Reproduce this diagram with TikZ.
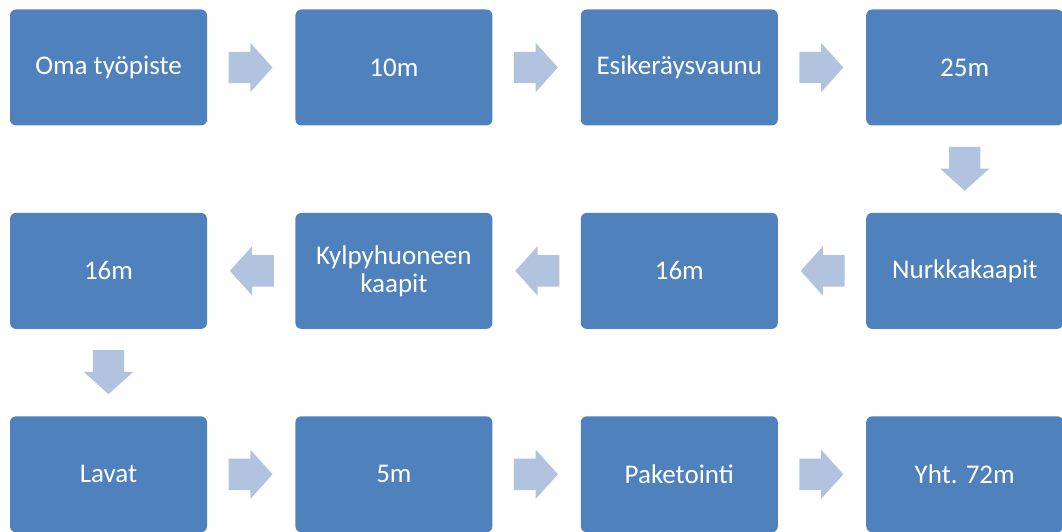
\documentclass[tikz,border=0pt]{standalone}
\usepackage{fontspec}
\setmainfont{Carlito}
\definecolor{BoxBlue}{RGB}{79,129,189}
\definecolor{ArrowBlue}{RGB}{177,195,223}
\usepackage{tikz}
\usetikzlibrary{positioning, shapes.arrows}
\tikzset{
  flowbox/.style={rectangle, rounded corners=6pt, fill=BoxBlue, text=white,
    minimum width=197pt, minimum height=116pt, align=center,
    font=\fontsize{27}{28}\selectfont},
  blockarrow/.style={single arrow, fill=ArrowBlue, draw=none, inner sep=0pt,
    inner ysep=15.5pt, minimum height=44pt, single arrow head extend=9pt,
    single arrow tip angle=96, anchor=tail, pos=0.24}
}

\begin{document}
\begin{tikzpicture}[x=1pt,y=-1pt]
          \useasboundingbox (0,0) rectangle (1062,532);
          % first row, left to right
          \node[flowbox] (oma) at (108.5,67.5) {Oma työpiste};
          \node[flowbox, right=88pt of oma] (d10) {10m};
          \node[flowbox, right=88pt of d10] (vaunu) {Esikeräysvaunu};
          \node[flowbox, right=88pt of vaunu] (d25) {25m};
          % second row, right to left
          \node[flowbox, below=87pt of d25] (nurkka) {Nurkkakaapit};
          \node[flowbox, left=88pt of nurkka] (d16a) {16m};
          \node[flowbox, left=88pt of d16a] (kylpy) {Kylpyhuoneen\\kaapit};
          \node[flowbox, left=88pt of kylpy] (d16b) {16m};
          % third row, left to right
          \node[flowbox, below=87pt of d16b] (lavat) {Lavat};
          \node[flowbox, right=88pt of lavat] (d5) {5m};
          \node[flowbox, right=88pt of d5] (paketointi) {Paketointi};
          \node[flowbox, right=88pt of paketointi] (yht) {Yht. 72m};
          % arrows
          \path (oma.east) -- node[blockarrow] {} (d10.west);
          \path (d10.east) -- node[blockarrow] {} (vaunu.west);
          \path (vaunu.east) -- node[blockarrow] {} (d25.west);
          \path (d25.south) -- node[blockarrow, rotate=-90] {} (nurkka.north);
          \path (nurkka.west) -- node[blockarrow, rotate=180] {} (d16a.east);
          \path (d16a.west) -- node[blockarrow, rotate=180] {} (kylpy.east);
          \path (kylpy.west) -- node[blockarrow, rotate=180] {} (d16b.east);
          \path (d16b.south) -- node[blockarrow, rotate=-90] {} (lavat.north);
          \path (lavat.east) -- node[blockarrow] {} (d5.west);
          \path (d5.east) -- node[blockarrow] {} (paketointi.west);
          \path (paketointi.east) -- node[blockarrow] {} (yht.west);
        \end{tikzpicture}
\end{document}
